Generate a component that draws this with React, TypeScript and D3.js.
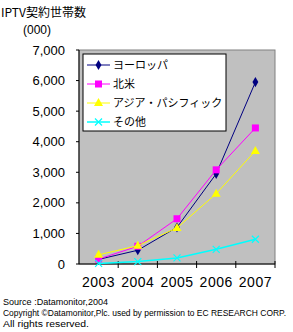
import React from 'react';
import * as d3 from 'd3';

const years = ['2003', '2004', '2005', '2006', '2007'];
const europe = [150, 450, 1200, 2950, 5950];
const northAmerica = [160, 580, 1480, 3080, 4450];
const asiaPacific = [300, 600, 1180, 2300, 3700];
const others = [20, 80, 200, 480, 810];
const yTicks = [0, 1000, 2000, 3000, 4000, 5000, 6000, 7000];

const series = [
  { name: 'ヨーロッパ', values: europe, color: '#000080', marker: 'diamond' },
  { name: '北米', values: northAmerica, color: '#FF00FF', marker: 'square' },
  { name: 'アジア・パシフィック', values: asiaPacific, color: '#FFFF00', marker: 'triangle' },
  { name: 'その他', values: others, color: '#00FFFF', marker: 'cross' },
];

const W = 293;
const H = 332;
const plot = { left: 79, right: 275, top: 50, bottom: 264 };
const jp = '"Noto Sans CJK JP", sans-serif';
const num = '"Liberation Sans", Arial, sans-serif';

const x = d3.scaleBand().domain(years).range([plot.left, plot.right]);
const y = d3.scaleLinear().domain([0, 7000]).range([plot.bottom, plot.top]);
const fmt = d3.format(',');

function Marker({ type, cx, cy, color }: { type: string; cx: number; cy: number; color: string }) {
  if (type === 'diamond') {
    const s = d3.symbol(d3.symbolDiamond, 30)();
    return <path d={s!} transform={`translate(${cx},${cy})`} fill={color} />;
  }
  if (type === 'square') {
    return <rect x={cx - 3.5} y={cy - 3.5} width={7} height={7} fill={color} />;
  }
  if (type === 'triangle') {
    return <path d={`M${cx},${cy - 5}L${cx + 4.5},${cy + 3}L${cx - 4.5},${cy + 3}Z`} fill={color} />;
  }
  return (
    <path
      d={`M${cx - 3.5},${cy - 3.5}L${cx + 3.5},${cy + 3.5}M${cx - 3.5},${cy + 3.5}L${cx + 3.5},${cy - 3.5}`}
      stroke={color}
      strokeWidth={1.2}
      fill="none"
    />
  );
}

export default function App() {
  const line = d3
    .line<number>()
    .x((_, i) => x(years[i])! + x.bandwidth() / 2)
    .y((d) => y(d));

  const legend = { x: 83, y: 54, w: 143, h: 77 };

  return (
    <svg width={W} height={H} style={{ position: 'absolute', left: 0, top: 0, background: '#fff' }}>
      <text x={1} y={17} fontFamily={jp} fontSize={12}>IPTV契約世帯数</text>
      <text x={23} y={34} fontFamily={num} fontSize={12}>(000)</text>

      <rect
        x={plot.left}
        y={plot.top}
        width={plot.right - plot.left}
        height={plot.bottom - plot.top}
        fill="#C0C0C0"
        stroke="#808080"
      />

      {/* y axis */}
      <line x1={plot.left} x2={plot.left} y1={plot.top} y2={plot.bottom} stroke="#000" />
      {yTicks.map((t) => (
        <g key={t}>
          <line x1={plot.left - 3} x2={plot.left} y1={y(t)} y2={y(t)} stroke="#000" />
          <text x={65} y={y(t)} dy="0.35em" textAnchor="end" fontFamily={num} fontSize={13}>
            {fmt(t)}
          </text>
        </g>
      ))}

      {/* x axis */}
      <line x1={plot.left} x2={plot.right} y1={plot.bottom} y2={plot.bottom} stroke="#000" />
      {years.map((yr) => (
        <g key={yr}>
          <line x1={x(yr)! + x.bandwidth()} x2={x(yr)! + x.bandwidth()} y1={plot.bottom - 3} y2={plot.bottom + 4} stroke="#000" />
          <text
            x={x(yr)! + x.bandwidth() / 2}
            y={287}
            textAnchor="middle"
            fontFamily={num}
            fontSize={14}
            letterSpacing={0.5}
          >
            {yr}
          </text>
        </g>
      ))}

      {series.map((s) => (
        <g key={s.name}>
          <path d={line(s.values)!} fill="none" stroke={s.color} strokeWidth={s.marker === 'cross' ? 1.5 : 1} />
          {s.values.map((v, i) => (
            <Marker key={i} type={s.marker} cx={x(years[i])! + x.bandwidth() / 2} cy={y(v)} color={s.color} />
          ))}
        </g>
      ))}

      {/* legend */}
      <rect x={legend.x} y={legend.y} width={legend.w} height={legend.h} fill="#fff" stroke="#000" />
      {series.map((s, i) => {
        const ly = 65 + i * 19;
        return (
          <g key={s.name}>
            <line x1={87} x2={110} y1={ly} y2={ly} stroke={s.color} strokeWidth={s.marker === 'cross' ? 1.5 : 1} />
            <Marker type={s.marker} cx={98.5} cy={ly} color={s.color} />
            <text x={113} y={ly} dy="0.38em" fontFamily={jp} fontSize={11}>
              {s.name}
            </text>
          </g>
        );
      })}

      {/* source notes */}
      <g fontFamily={num} fontSize={8.5}>
        <text x={3} y={305} textLength={105} lengthAdjust="spacingAndGlyphs">Source :Datamonitor,2004</text>
        <text x={3} y={316} textLength={283} lengthAdjust="spacingAndGlyphs">
          Copyright ©Datamonitor,Plc. used by permission to EC RESEARCH CORP.
        </text>
        <text x={3} y={327} textLength={86} lengthAdjust="spacingAndGlyphs">All rights reserved.</text>
      </g>
    </svg>
  );
}
